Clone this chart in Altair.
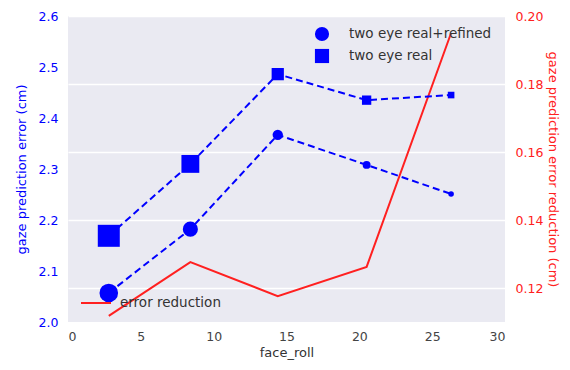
import altair as alt
import pandas as pd

# ---- data ----
face_roll = [2.8, 8.4, 14.4, 20.5, 26.3]
err_refined = [2.057, 2.182, 2.367, 2.308, 2.251]   # two eye real+refined
err_real = [2.169, 2.310, 2.486, 2.435, 2.445]      # two eye real
err_reduction = [0.1118, 0.1276, 0.1176, 0.1262, 0.195]
sample_weight = [1.0, 0.66, 0.31, 0.18, 0.09]        # relative marker weight

series_names = ["two eye real+refined", "two eye real"]
x_ticks = [0, 5, 10, 15, 20, 25, 30]
left_ticks = [2.0, 2.1, 2.2, 2.3, 2.4, 2.5, 2.6]
right_ticks = [0.12, 0.14, 0.16, 0.18, 0.20]

FONT = "DejaVu Sans"
BLUE = "#0000ff"
RED = "#ff2020"

refined_df = pd.DataFrame({"face_roll": face_roll, "error": err_refined,
                           "series": series_names[0], "w": sample_weight})
real_df = pd.DataFrame({"face_roll": face_roll, "error": err_real,
                        "series": series_names[1], "w": sample_weight})
red_df = pd.DataFrame({"face_roll": face_roll, "reduction": err_reduction,
                       "label": "error reduction"})

x_enc = alt.X("face_roll:Q", scale=alt.Scale(domain=[0, 30], nice=False),
              axis=alt.Axis(values=x_ticks, title="face_roll", grid=False,
                            domain=False, ticks=False, labelColor="#444444",
                            titleColor="#333333", labelPadding=8,
                            titlePadding=4, labelFontSize=12.5,
                            titleFontSize=13, titleFontWeight="normal"))

y_left = alt.Y("error:Q", scale=alt.Scale(domain=[2.0, 2.6], nice=False, zero=False),
               axis=alt.Axis(values=left_ticks, format=".1f", grid=False,
                             domain=False, ticks=False, labelColor=BLUE,
                             titleColor=BLUE, title="gaze prediction error (cm)",
                             labelPadding=10, titlePadding=10,
                             labelFontSize=12.5, titleFontSize=13,
                             titleFontWeight="normal"))

shape_scale = alt.Scale(domain=series_names, range=["circle", "square"])
shape_legend = alt.Legend(orient="none", legendX=246, legendY=10, title=None,
                          symbolFillColor=BLUE, symbolStrokeColor=BLUE,
                          symbolSize=200, labelFontSize=13.5, labelColor="#333333",
                          labelFont=FONT, rowPadding=0, labelOffset=19)

line_refined = alt.Chart(refined_df).mark_line(
    color=BLUE, strokeWidth=2, strokeDash=[7, 4]).encode(x=x_enc, y=y_left)
line_real = alt.Chart(real_df).mark_line(
    color=BLUE, strokeWidth=2, strokeDash=[7, 4]).encode(x=x_enc, y=y_left)

pts_refined = alt.Chart(refined_df).mark_point(
    filled=True, color=BLUE, opacity=1).encode(
    x=x_enc, y=y_left,
    shape=alt.Shape("series:N", scale=shape_scale, legend=shape_legend),
    size=alt.Size("w:Q", scale=alt.Scale(domain=[0, 1], range=[0, 346]), legend=None))
pts_real = alt.Chart(real_df).mark_point(
    filled=True, color=BLUE, opacity=1).encode(
    x=x_enc, y=y_left,
    shape=alt.Shape("series:N", scale=shape_scale, legend=shape_legend),
    size=alt.Size("w:Q", scale=alt.Scale(domain=[0, 1], range=[0, 484]), legend=None))

left = alt.layer(line_refined, line_real, pts_refined, pts_real).resolve_scale(size="independent")

right = alt.Chart(red_df).mark_line(strokeWidth=2).encode(
    x=x_enc,
    y=alt.Y("reduction:Q", scale=alt.Scale(domain=[0.11, 0.20], nice=False, zero=False),
            axis=alt.Axis(orient="right", values=right_ticks, format=".2f",
                          grid=True, gridColor="white", gridWidth=1.5,
                          domain=False, ticks=False, labelColor=RED,
                          titleColor=RED, title="gaze prediction error reduction (cm)",
                          labelPadding=10, titlePadding=3, labelFontSize=12.5,
                          titleFontSize=13, titleFontWeight="normal")),
    color=alt.Color("label:N", scale=alt.Scale(range=[RED]),
                    legend=alt.Legend(orient="none", legendX=12, legendY=271,
                                      title=None, symbolType="stroke",
                                      symbolStrokeWidth=2, symbolSize=900,
                                      labelFontSize=13.5, labelColor="#333333",
                                      labelFont=FONT, labelOffset=8)),
)

chart = alt.layer(right, left).resolve_scale(y="independent", shape="shared").properties(
    width=437, height=306,
    autosize=alt.AutoSizeParams(type="none"),
    padding={"left": 60, "top": 8, "right": 56, "bottom": 38},
).configure(
    font=FONT, background="white"
).configure_view(fill="#EAEAF2", stroke=None
).configure_axis(labelFont=FONT, titleFont=FONT)

chart.save("out.html", embed_options={"renderer": "svg", "actions": False})
